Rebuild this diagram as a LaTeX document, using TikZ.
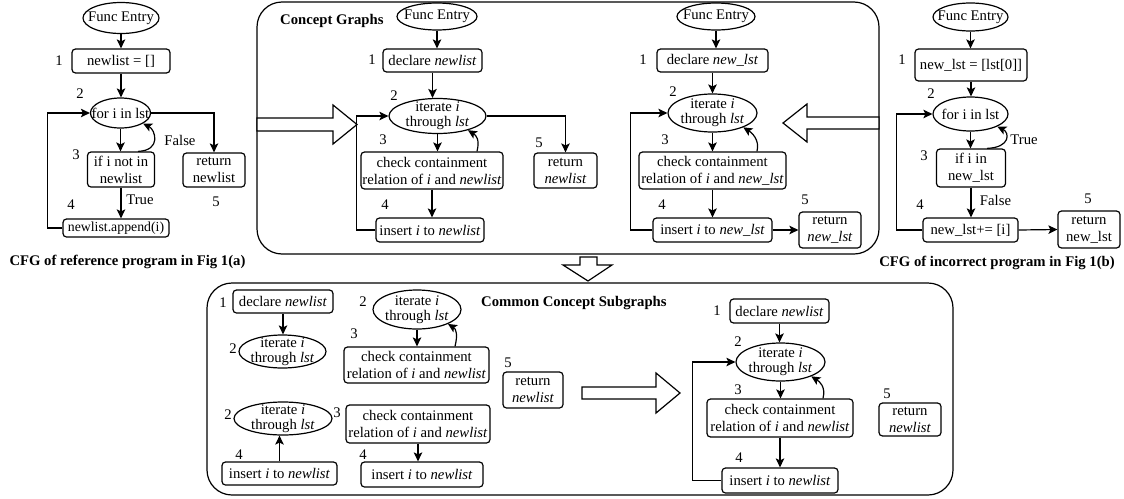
\documentclass[tikz,border=0pt]{standalone}
\usepackage{fontspec}
\setmainfont{Liberation Serif}
\usetikzlibrary{shapes.geometric,arrows.meta}
\tikzset{
 bx/.style 2 args={draw, rounded corners=3.5pt, line width=1.2pt, inner sep=1pt, align=center, minimum width=#1pt, minimum height=#2pt},
 el/.style 2 args={draw, ellipse, line width=1.2pt, inner xsep=-12pt, inner ysep=-8pt, align=center, minimum width=#1pt, minimum height=#2pt, font=\fontsize{14.7}{15}\selectfont},
 num/.style={inner sep=0pt},
 arr/.style={line width=1.2pt, -{Stealth[length=9pt,width=8.5pt,inset=2pt]}},
 frame/.style 2 args={draw, rounded corners=25pt, line width=1.2pt, minimum width=#1pt, minimum height=#2pt, inner sep=0pt},
 hollow/.style={draw, fill=white, line width=1.2pt, line join=miter},
 ttl/.style={font=\fontsize{14.7}{17}\selectfont\bfseries, inner sep=0pt}
}
\begin{document}
\begin{tikzpicture}[x=1pt,y=-1pt, every node/.style={font=\fontsize{14.7}{17}\selectfont}]
\useasboundingbox (0,0) rectangle (1124,498);

% ---------- frames ----------
\node[frame={622}{252}] (cg) at (568,128) {};
\node[frame={746}{212}] (cs) at (580,389) {};
\node[ttl, anchor=west] (cgt) at (280,21) {Concept Graphs};
\node[ttl, anchor=west] (cst) at (481,303) {Common Concept Subgraphs};

% ---------- hollow arrows ----------
\draw[hollow] (257,118) -- (333,118) -- (333,105) -- (357,124.5) -- (333,144) -- (333,131) -- (257,131) -- cycle;
\draw[hollow] (879,117) -- (807,117) -- (807,104) -- (783,123) -- (807,142) -- (807,129) -- (879,129) -- cycle;
\draw[hollow] (580,257) -- (597,257) -- (597,265) -- (612,265) -- (588,281) -- (563,265) -- (580,265) -- cycle;
\draw[hollow] (582,387) -- (656,387) -- (656,373) -- (680,393) -- (656,413) -- (656,399) -- (582,399) -- cycle;

% ---------- left CFG ----------
\node[el={76}{31}] (aE) at (121,18) {Func Entry};
\node[bx={98}{24}] (a1) at (121,61) {newlist = []};
\node[el={60}{30}] (a2) at (120.5,113) {for i in lst};
\node[bx={67}{35}] (a3) at (121,169.5) {if i not in\\newlist};
\node[bx={106}{18}, font=\fontsize{13.8}{16}\selectfont] (a4) at (116,228) {newlist.append(i)};
\node[bx={62}{34}] (a5) at (214,170) {return\\newlist};
\node[num] (na1) at (59,61) {1};
\node[num] (na2) at (80,94) {2};
\node[num] (na3) at (76,155) {3};
\node[num] (na4) at (71,205) {4};
\node[num] (na5) at (216,202) {5};
\node[num] (aF) at (180,140) {False};
\node[num] (aT) at (140,200) {True};
\node[ttl] (capA) at (127.5,262) {CFG of reference program in Fig 1(a)};
\draw[arr] (aE.south) -- (aE.south |- a1.north);
\draw[arr] (a1.south) -- (a1.south |- a2.north);
\draw[arr] (a2.south) -- (a2.south |- a3.north);
\draw[arr] ([xshift=17pt]a3.north) .. controls +(24,-1) and +(12,6) .. (a2.-25);
\draw[arr] (a3.south) -- (a3.south |- a4.north);
\draw[arr] (a4.west) -- ++(-15,0) |- (a2.west);
\draw[arr] (a2.east) -| (a5.north);

% ---------- concept graph (reference) ----------
\node[el={80}{27}] (bE) at (437,16.5) {Func Entry};
\node[bx={99}{23}] (b1) at (432.5,60.5) {declare \textit{newlist}};
\node[el={97}{35}] (b2) at (437.5,116) {iterate \textit{i}\\through \textit{lst}};
\node[bx={142}{37}] (b3) at (432,170.5) {check containment\\relation of \textit{i} and \textit{newlist}};
\node[bx={108}{24}] (b4) at (430,230) {insert \textit{i} to \textit{newlist}};
\node[bx={63}{35}] (b5) at (565.5,170.5) {return\\\textit{newlist}};
\node[num] (nb1) at (372,60) {1};
\node[num] (nb2) at (394,96) {2};
\node[num] (nb3) at (383,140) {3};
\node[num] (nb4) at (385,205) {4};
\node[num] (nb5) at (539,143) {5};
\draw[arr] (bE.south) -- (bE.south |- b1.north);
\draw[arr] (b1.south) -- (b1.south |- b2.north);
\draw[arr] (b2.south) -- (b2.south |- b3.north);
\draw[arr] ([xshift=45pt]b3.north) .. controls +(3,-12) and +(8,5) .. (b2.-25);
\draw[arr] (b3.south) -- (b3.south |- b4.north);
\draw[arr] (b4.west) -- ++(-19,0) |- (b2.west);
\draw[arr] (b2.east) -| (b5.north);

% ---------- concept graph (incorrect) ----------
\node[el={78}{27}] (cE) at (716,16.5) {Func Entry};
\node[bx={111}{23}] (c1) at (712.5,60.5) {declare \textit{new\_lst}};
\node[el={89}{38}] (c2) at (712.5,113) {iterate \textit{i}\\through \textit{lst}};
\node[bx={147}{37}] (c3) at (712.5,170.5) {check containment\\relation of \textit{i} and \textit{new\_lst}};
\node[bx={119}{24}] (c4) at (712.5,230) {insert \textit{i} to \textit{new\_lst}};
\node[bx={62}{36}] (c5) at (830,230) {return\\\textit{new\_lst}};
\node[num] (nc1) at (643,60) {1};
\node[num] (nc2) at (673,92) {2};
\node[num] (nc3) at (665,140) {3};
\node[num] (nc4) at (662,205) {4};
\node[num] (nc5) at (805,200) {5};
\draw[arr] (cE.south) -- (cE.south |- c1.north);
\draw[arr] (c1.south) -- (c1.south |- c2.north);
\draw[arr] (c2.south) -- (c2.south |- c3.north);
\draw[arr] ([xshift=44.5pt]c3.north) .. controls +(3,-12) and +(8,5) .. (c2.-25);
\draw[arr] (c3.south) -- (c3.south |- c4.north);
\draw[arr] (c4.west) -- ++(-22,0) |- (c2.west);
\draw[arr] (c4.east) -- (c5.west);

% ---------- right CFG ----------
\node[el={75}{28}] (dE) at (970.5,17) {Func Entry};
\node[bx={112}{32}] (d1) at (971,65) {new\_lst = [lst[0]]};
\node[el={75}{34}] (d2) at (970.5,114) {for i in lst};
\node[bx={69}{38}] (d3) at (971,168) {if i in\\new\_lst};
\node[bx={95}{24}] (d4) at (970.5,230) {new\_lst+= [i]};
\node[bx={62}{37}] (d5) at (1089,229.5) {return\\new\_lst};
\node[num] (nd1) at (902,60) {1};
\node[num] (nd2) at (931,94) {2};
\node[num] (nd3) at (924,156) {3};
\node[num] (nd4) at (920,205) {4};
\node[num] (nd5) at (1088,199) {5};
\node[num] (dT) at (1024,140) {True};
\node[num] (dF) at (995.5,200) {False};
\node[ttl] (capB) at (997,263) {CFG of incorrect program in Fig 1(b)};
\draw[arr] (dE.south) -- (dE.south |- d1.north);
\draw[arr] (d1.south) -- (d1.south |- d2.north);
\draw[arr] (d2.south) -- (d2.south |- d3.north);
\draw[arr] ([xshift=16pt]d3.north) .. controls +(24,-1) and +(12,6) .. (d2.-25);
\draw[arr] (d3.south) -- (d3.south |- d4.north);
\draw[arr] (d4.east) -- (d5.west);
\draw[arr] (d4.west) -- ++(-26,0) |- (d2.west);

% ---------- common concept subgraphs ----------
\node[bx={100}{23}] (e1) at (283,301.5) {declare \textit{newlist}};
\node[el={87}{33}] (e2) at (282.5,351.5) {iterate \textit{i}\\through \textit{lst}};
\node[el={88}{39}] (f2) at (417,309.5) {iterate \textit{i}\\through \textit{lst}};
\node[bx={145}{36}] (f3) at (416.5,365) {check containment\\relation of \textit{i} and \textit{newlist}};
\node[el={98}{33}] (g2) at (283,418.5) {iterate \textit{i}\\through \textit{lst}};
\node[bx={115}{23}] (g4) at (279.5,473.5) {insert \textit{i} to \textit{newlist}};
\node[bx={144}{38}] (h3) at (418,424) {check containment\\relation of \textit{i} and \textit{newlist}};
\node[bx={122}{25}] (h4) at (422,474.5) {insert \textit{i} to \textit{newlist}};
\node[bx={60}{36}] (e5) at (533,390) {return\\\textit{newlist}};
\node[num] (ne1) at (223,303) {1};
\node[num] (ne2) at (233,349) {2};
\node[num] (nf2) at (363,302) {2};
\node[num] (nf3) at (354,334) {3};
\node[num] (ng2) at (228,415) {2};
\node[num] (ng4) at (239,455) {4};
\node[num] (nh3) at (337,413) {3};
\node[num] (nh4) at (363,455) {4};
\node[num] (ne5) at (508,363) {5};
\draw[arr] (e1.south) -- (e1.south |- e2.north);
\draw[arr] (f2.south) -- (f2.south |- f3.north);
\draw[arr] ([xshift=38.5pt]f3.north) .. controls +(3,-12) and +(8,5) .. (f2.-25);
\draw[arr] (g4.north) -- (g4.north |- g2.south);
\draw[arr] (h3.south) -- (h3.south |- h4.north);

% ---------- merged subgraph ----------
\node[bx={99}{24}] (m1) at (779.5,311) {declare \textit{newlist}};
\node[el={89}{38}] (m2) at (780.5,362) {iterate \textit{i}\\through \textit{lst}};
\node[bx={146}{38}] (m3) at (780,418) {check containment\\relation of \textit{i} and \textit{newlist}};
\node[bx={116}{25}] (m4) at (780,480.5) {insert \textit{i} to \textit{newlist}};
\node[bx={62}{33}] (m5) at (910,419.5) {return\\\textit{newlist}};
\node[num] (nm1) at (717,311) {1};
\node[num] (nm2) at (738,342) {2};
\node[num] (nm3) at (738,390) {3};
\node[num] (nm4) at (739,458) {4};
\node[num] (nm5) at (887,394) {5};
\draw[arr] (m1.south) -- (m1.south |- m2.north);
\draw[arr] (m2.south) -- (m2.south |- m3.north);
\draw[arr] ([xshift=43pt]m3.north) .. controls +(3,-12) and +(8,5) .. (m2.-25);
\draw[arr] (m3.south) -- (m3.south |- m4.north);
\draw[arr] (m4.west) -- ++(-29,0) |- (m2.west);
\end{tikzpicture}
\end{document}
